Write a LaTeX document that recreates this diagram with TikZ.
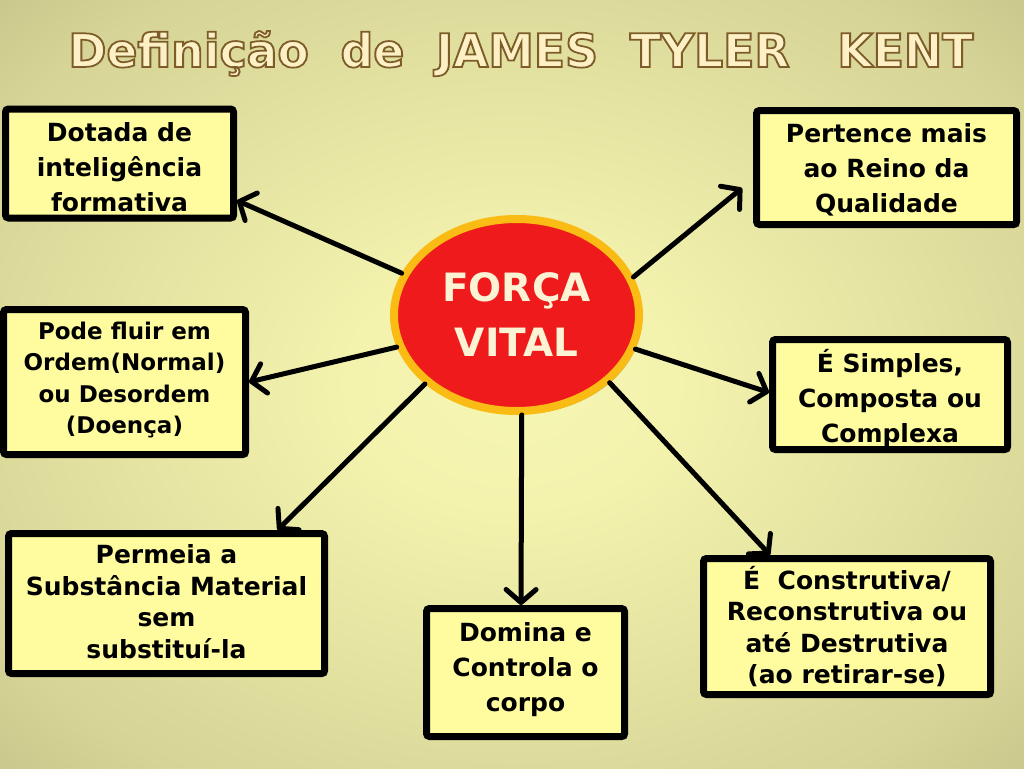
\documentclass[tikz,border=0pt]{standalone}
\usepackage{fontspec}
\setmainfont{DejaVu Sans}
\newfontfamily\titlefont{DejaVu Sans Condensed}
\usetikzlibrary{shapes.geometric,arrows.meta,shadows}
\definecolor{boxyellow}{RGB}{255,252,160}
\definecolor{vitalred}{RGB}{238,26,28}
\definecolor{ringorange}{RGB}{250,188,20}
\definecolor{creamtxt}{RGB}{252,242,212}
\definecolor{titlecream}{RGB}{252,240,196}
\definecolor{bgA}{RGB}{246,246,180}
\definecolor{bgA2}{RGB}{243,243,174}
\definecolor{bgB}{RGB}{214,212,150}
\definecolor{bgC}{RGB}{165,162,108}
\definecolor{bgD}{RGB}{125,122,75}
\pgfdeclareradialshading{bgshade}{\pgfpoint{0bp}{0bp}}{color(0bp)=(bgA); color(8bp)=(bgA2); color(30bp)=(bgB); color(52bp)=(bgC); color(72bp)=(bgD)}
\newcommand\outlinedtext[1]{\special{pdf:literal direct 2 Tr 1.8 w 0.49 0.36 0.16 RG}#1\special{pdf:literal direct 0 Tr}}
% #1 = how far the lines are moved down inside their box
\newcommand\btext[2]{\raisebox{-#1}[\height][\depth]{\begin{tabular}{@{}c@{}}#2\end{tabular}}}
\tikzset{
  infobox/.style={draw=black, line width=7pt, fill=boxyellow, rounded corners=3pt,
    inner sep=2pt, text=black,
    drop shadow={shadow xshift=3pt, shadow yshift=-3pt, opacity=0.35, fill=black}},
  three/.style={font=\fontsize{25pt}{35pt}\selectfont\bfseries},
  four/.style={font=\fontsize{25pt}{31.5pt}\selectfont\bfseries},
  conn/.style={line width=5pt, line cap=round, -{Straight Barb[length=13pt,width=30pt,round]}}
}
\begin{document}
\begin{tikzpicture}[x=1pt,y=-1pt]
\useasboundingbox (0,0) rectangle (1024,768);
\shade[shading=bgshade] (0,0) rectangle (1024,768);

\node[anchor=base, text=titlecream, inner sep=0pt] (title) at (521,67)
  {\titlefont\bfseries\fontsize{48pt}{50pt}\selectfont\resizebox{905pt}{36pt}{\outlinedtext{Definição\ \ de\ \ JAMES\ \ TYLER\ \ \ KENT}}};

\node[ellipse, draw=ringorange, line width=8pt, fill=vitalred, minimum width=245pt, minimum height=192pt,
  align=center, text=creamtxt, font=\fontsize{39pt}{55pt}\selectfont\bfseries,
  drop shadow={shadow xshift=3pt, shadow yshift=-3pt, opacity=0.3, fill=black}] (fv) at (516.5,315) {FORÇA\\VITAL};

\node[infobox, three, minimum width=228pt, minimum height=108pt] (b1) at (119.5,163.5)
  {\btext{6pt}{Dotada de\\inteligência\\formativa}};
\node[infobox, three, minimum width=260pt, minimum height=114pt] (b2) at (886.5,167.5)
  {\btext{3pt}{Pertence mais\\ao Reino da\\Qualidade}};
\node[infobox, four, font=\fontsize{23pt}{31.5pt}\selectfont\bfseries, minimum width=242pt, minimum height=145pt] (b3) at (124.5,382)
  {\btext{-2pt}{Pode fluir em\\Ordem(Normal)\\ou Desordem\\(Doença)}};
\node[infobox, three, minimum width=235pt, minimum height=110pt] (b4) at (890,394.5)
  {\btext{6pt}{É Simples,\\Composta ou\\Complexa}};
\node[infobox, four, minimum width=316pt, minimum height=140pt] (b5) at (166.5,603.5)
  {\btext{1pt}{Permeia a\\Substância Material\\sem\\substituí-la}};
\node[infobox, three, minimum width=198pt, minimum height=128pt] (b6) at (525.5,672.5)
  {\btext{-3pt}{Domina e\\Controla o\\corpo}};
\node[infobox, four, minimum width=287pt, minimum height=136pt] (b7) at (847,626.5)
  {\btext{3pt}{É\ \ Construtiva/\\Reconstrutiva ou\\até Destrutiva\\(ao retirar-se)}};

\draw[conn] (fv.160) -- ([yshift=-37pt]b1.east);
\draw[conn] (fv.18.6) -- ([xshift=-11pt,yshift=40pt]b2.south west);
\draw[conn] (fv.195) -- (b3.east);
\draw[conn] (fv.-16) -- ([yshift=2pt]b4.west);
\draw[conn] (fv.217.6) -- ([xshift=111pt]b5.north);
\draw[conn] (fv.-87) -- ([xshift=-4.5pt]b6.north);
\draw[conn] (fv.-36.7) -- ([xshift=70pt]b7.north west);
\end{tikzpicture}
\end{document}
